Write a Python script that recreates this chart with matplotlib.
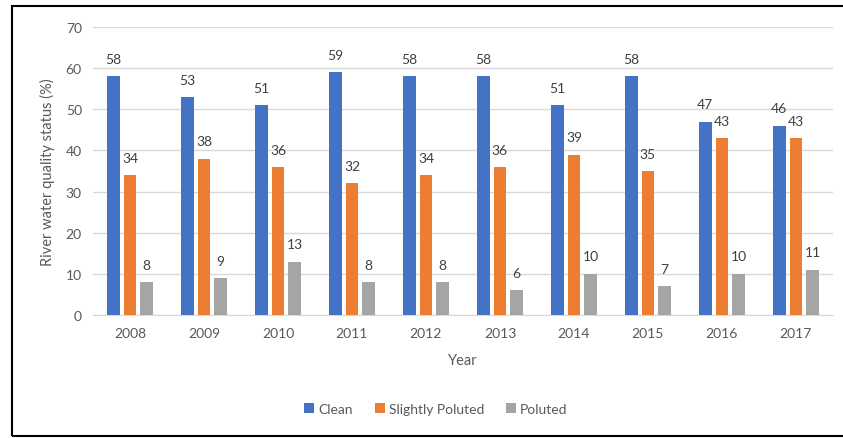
import matplotlib
matplotlib.use('Agg')
import matplotlib.pyplot as plt
import numpy as np
from matplotlib.patches import Rectangle

# Data
years = ['2008', '2009', '2010', '2011', '2012', '2013', '2014', '2015', '2016', '2017']
clean = [58, 53, 51, 59, 58, 58, 51, 58, 47, 46]
slightly_poluted = [34, 38, 36, 32, 34, 36, 39, 35, 43, 43]
poluted = [8, 9, 13, 8, 8, 6, 10, 7, 10, 11]

series = [
    ('Clean', clean, '#4472C4'),
    ('Slightly Poluted', slightly_poluted, '#ED7D31'),
    ('Poluted', poluted, '#A5A5A5'),
]

plt.rcParams['font.family'] = ['Lato', 'DejaVu Sans']
text_col = '#595959'

fig = plt.figure(figsize=(8.43, 4.39), dpi=100)
ax = fig.add_axes([0.1103, 0.2802, 0.8777, 0.656])

x = np.arange(len(years))
width = 0.17
step = 0.225

for i, (name, vals, col) in enumerate(series):
    pos = x + (i - 1) * step
    ax.bar(pos, vals, width, color=col, label=name, zorder=3)
    for px, v in zip(pos, vals):
        ax.annotate(str(v), (px, v), xytext=(0, 12.5), textcoords='offset points',
                    ha='center', va='center', fontsize=10, color='#404040')

ax.set_xlim(-0.5, len(years) - 0.5)
ax.set_ylim(0, 70)
ax.set_yticks(range(0, 71, 10))
ax.set_xticks(x)
ax.set_xticklabels(years)
ax.yaxis.grid(True, color='#D9D9D9', linewidth=1, zorder=0)
ax.tick_params(length=0, labelsize=10, colors=text_col, pad=8)
ax.tick_params(axis='x', pad=9)
for s in ['top', 'right', 'left']:
    ax.spines[s].set_visible(False)
ax.spines['bottom'].set_color('#D9D9D9')

ax.set_xlabel('Year', fontsize=10.5, color=text_col, labelpad=10)
ax.set_ylabel('River water quality status (%)', fontsize=10.5, color=text_col, labelpad=8)

fig.legend(loc='center', bbox_to_anchor=(436 / 843, 1 - 410 / 439), ncol=3,
           frameon=False, fontsize=10, handlelength=0.7, handleheight=0.7,
           handletextpad=0.3, columnspacing=1.6, labelcolor=text_col)

# outer frame
fig.patches.append(Rectangle((12 / 843, 2 / 439), 1.0, 1 - 9 / 439,
                             transform=fig.transFigure, fill=False,
                             edgecolor='black', linewidth=1.5))

fig.savefig('out.png', dpi=100)
